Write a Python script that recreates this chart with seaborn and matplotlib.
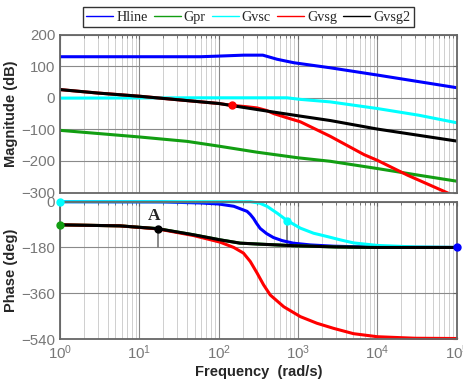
import numpy as np
import pandas as pd
import matplotlib
matplotlib.use("Agg")
import matplotlib.pyplot as plt
import seaborn as sns
from matplotlib.lines import Line2D
from matplotlib.ticker import LogLocator, FixedLocator, NullFormatter

sns.set_style("white")
plt.rcParams['font.family'] = ['Liberation Sans', 'DejaVu Sans']
plt.rcParams['mathtext.default'] = 'regular'

series = ["Hline", "Gpr", "Gvsc", "Gvsg", "Gvsg2"]
colors = ["#0000FF", "#129E12", "#00FFFF", "#FF0000", "#000000"]

# Magnitude (dB)
hline_w = [1, 59, 100, 206, 360, 450, 545, 885, 2550, 1e4, 1e5]
hline_m = [130, 130, 132, 135, 135, 128, 122, 111, 95, 72, 32]
gpr_w = [1, 3, 10, 40, 100, 300, 1000, 2550, 1e4, 3.3e4, 1e5]
gpr_m = [-103, -113, -124, -138, -153, -172, -190, -201, -224, -245, -264]
gvsc_w = [1, 60, 728, 1070, 2550, 1e4, 3.3e4, 1e5]
gvsc_m = [-1, 0, 0, -5, -13, -34, -55, -79]
gvsg_w = [1, 3, 10, 20, 100, 147, 220, 304, 400, 494, 700, 1070, 2550, 6800, 1e4, 2.4e4, 6.9e4, 1e5]
gvsg_m = [26, 15, 5, -2, -18, -24, -28, -32, -40, -50, -62, -76, -122, -180, -198, -245, -296, -314]
gvsg2_w = [1, 3, 10, 20, 100, 200, 406, 1070, 2550, 1e4, 1e5]
gvsg2_m = [26, 15, 5, -2, -18, -30, -42, -58, -72, -99, -137]

# Phase (deg)
hline_pw = [1, 20, 59, 100, 155, 228, 250, 275, 300, 333, 400, 490, 630, 870, 1430, 2800, 1e4, 1e5]
hline_p = [0, -1, -5, -9, -18, -38, -50, -66, -85, -105, -125, -141, -153, -163, -170, -175, -179, -180]
gpr_pw = [1, 5.7, 17, 48, 104, 186, 333, 870, 3000, 1e4, 1e5]
gpr_p = [-91, -95, -106, -130, -150, -163, -167, -173, -178, -180, -180]
gvsc_pw = [1, 250, 330, 406, 545, 728, 1070, 1570, 2330, 3400, 5000, 1e4, 3e4, 1e5]
gvsc_p = [0, 0, -6, -18, -45, -74, -104, -124, -137, -150, -162, -172, -178, -180]
gvsg_pw = [1, 5.7, 17, 48, 104, 155, 205, 250, 304, 368, 447, 660, 1070, 1730, 2800, 5000, 1e4, 3e4, 1e5]
gvsg_p = [-91, -95, -107, -133, -159, -180, -202, -235, -280, -327, -367, -413, -452, -478, -498, -519, -531, -537, -538]
gvsg2_pw = [1, 5.7, 17, 48, 104, 186, 333, 870, 3000, 1e4, 1e5]
gvsg2_p = [-91, -95, -106, -130, -150, -163, -167, -173, -178, -180, -180]

mag = [(hline_w, hline_m), (gpr_w, gpr_m), (gvsc_w, gvsc_m), (gvsg_w, gvsg_m), (gvsg2_w, gvsg2_m)]
pha = [(hline_pw, hline_p), (gpr_pw, gpr_p), (gvsc_pw, gvsc_p), (gvsg_pw, gvsg_p), (gvsg2_pw, gvsg2_p)]

# markers
mag_pts = [(147, -24, "#FF0000")]
pha_pts = [(1, 0, "#00FFFF"), (1, -90, "#129E12"), (17, -106, "#000000"),
           (728, -74, "#00FFFF"), (1e5, -180, "#0000FF")]
stems = [(17, -106), (728, -74)]

fig = plt.figure(figsize=(4.64, 3.89), dpi=100)
ax1 = fig.add_axes([0.1293, 0.505, 0.855, 0.406])
ax2 = fig.add_axes([0.1293, 0.1285, 0.855, 0.353])

tick_col = "#777777"
for ax in (ax1, ax2):
    ax.set_xscale("log")
    ax.set_xlim(1, 1e5)
    ax.xaxis.set_major_locator(LogLocator(base=10, numticks=10))
    ax.xaxis.set_minor_locator(LogLocator(base=10, subs=np.arange(2, 10), numticks=100))
    ax.xaxis.set_minor_formatter(NullFormatter())
    ax.grid(True, which="major", color="#8a8a8a", lw=0.8)
    ax.grid(True, which="minor", axis="x", color="#cfcfcf", lw=0.7)
    for s in ax.spines.values():
        s.set_color("#666666")
        s.set_linewidth(1.3)
    ax.tick_params(which="both", direction="in", top=True, right=True,
                   colors="#666666", labelcolor=tick_col, labelsize=10.8)
    ax.tick_params(which="major", length=3)
    ax.tick_params(which="minor", length=2)

for (w, v), c in zip(mag, colors):
    sns.lineplot(x=w, y=v, ax=ax1, color=c, lw=2.2, sort=False, estimator=None)
for w, v, c in mag_pts:
    ax1.plot([w], [v], "o", color=c, ms=5, zorder=5)
ax1.set_ylim(-300, 200)
ax1.yaxis.set_major_locator(FixedLocator([-300, -200, -100, 0, 100, 200]))
ax1.set_xticklabels([])
ax1.set_xlabel("")
ax1.set_ylabel("Magnitude (dB)", fontweight="bold", fontsize=10.5, labelpad=2)

for w, v in stems:
    ax2.plot([w, w], [v, -180], color="#777777", lw=1.2, zorder=2)
for (w, v), c in zip(pha, colors):
    sns.lineplot(x=w, y=v, ax=ax2, color=c, lw=2.2, sort=False, estimator=None, clip_on=False)
for w, v, c in pha_pts:
    ax2.plot([w], [v], "o", color=c, ms=5, zorder=5, clip_on=False)
ax2.set_ylim(-540, 0)
ax2.yaxis.set_major_locator(FixedLocator([-540, -360, -180, 0]))
ax2.set_ylabel("Phase (deg)", fontweight="bold", fontsize=10.5, labelpad=2)
ax2.set_xlabel("Frequency  (rad/s)", fontweight="bold", fontsize=10.5, labelpad=2)
ax2.text(15.5, -58, "A", family="Liberation Serif", fontweight="bold", fontsize=12.5,
         ha="center", va="center")

handles = [Line2D([], [], color=c, lw=1) for c in colors]
leg = fig.legend(handles, series, loc="center", bbox_to_anchor=(0.535, 0.956), ncol=5,
                 prop={"family": "Liberation Serif", "size": 10.2}, frameon=True,
                 fancybox=False, edgecolor="black", handlelength=1.9, handletextpad=0.2,
                 columnspacing=0.45, borderpad=0.25, borderaxespad=0)
leg.get_frame().set_linewidth(1.0)

fig.align_ylabels([ax1, ax2])
fig.savefig("out.png", dpi=100)
